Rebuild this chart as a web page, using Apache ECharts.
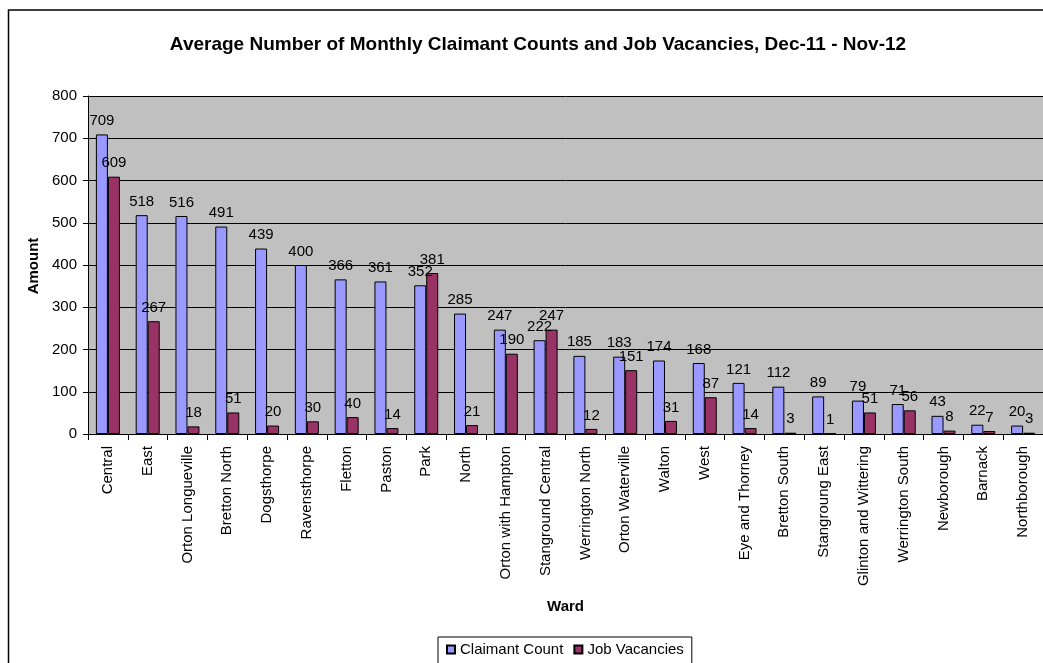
<!DOCTYPE html>
<html>
<head>
<meta charset="utf-8">
<title>Claimant Counts and Job Vacancies</title>
<script src="https://cdn.jsdelivr.net/npm/echarts@6/dist/echarts.min.js"></script>
<style>
  html, body { margin: 0; padding: 0; background: #fff; }
  #chart { width: 1043px; height: 663px; }
</style>
</head>
<body>
<div id="chart"></div>
<script>
// Wards, in order of average claimant count
const wards = [
  'Central', 'East', 'Orton Longueville', 'Bretton North', 'Dogsthorpe',
  'Ravensthorpe', 'Fletton', 'Paston', 'Park', 'North', 'Orton with Hampton',
  'Stanground Central', 'Werrington North', 'Orton Waterville', 'Walton', 'West',
  'Eye and Thorney', 'Bretton South', 'Stangroung East', 'Glinton and Wittering',
  'Werrington South', 'Newborough', 'Barnack', 'Northborough'
];

// Average monthly values, Dec-11 to Nov-12
const claimantCount = [709, 518, 516, 491, 439, 400, 366, 361, 352, 285, 247, 222, 185, 183, 174, 168, 121, 112, 89, 79, 71, 43, 22, 20];
const jobVacancies  = [609, 267, 18, 51, 20, 30, 40, 14, 381, 21, 190, 247, 12, 151, 31, 87, 14, 3, 1, 51, 56, 8, 7, 3];

// Value axis ticks
const yTicks = [0, 100, 200, 300, 400, 500, 600, 700, 800];

const FONT = 'Liberation Sans, Arial, sans-serif';

const chart = echarts.init(document.getElementById('chart'), null, { renderer: 'canvas' });

const labelStyle = {
  show: true,
  position: 'top',
  distance: 6,
  color: '#000',
  fontFamily: FONT,
  fontSize: 15
};

chart.setOption({
  animation: false,
  backgroundColor: '#fff',
  textStyle: { fontFamily: FONT },
  title: {
    text: 'Average Number of Monthly Claimant Counts and Job Vacancies, Dec-11 - Nov-12',
    left: 533,
    textAlign: 'center',
    top: 30,
    textStyle: { fontFamily: FONT, fontSize: 19, fontWeight: 'bold', color: '#000' }
  },
  graphic: [{
    // outer chart frame
    type: 'rect',
    shape: { x: 8.5, y: 10, width: 1100, height: 700 },
    style: { fill: 'none', stroke: '#000', lineWidth: 1.5 },
    silent: true,
    z: -1
  }, {
    // value axis title
    type: 'text',
    x: 34,
    y: 266,
    rotation: Math.PI / 2,
    style: {
      text: 'Amount',
      fontFamily: FONT,
      fontSize: 15,
      fontWeight: 'bold',
      fill: '#000',
      align: 'center',
      verticalAlign: 'middle'
    }
  }],
  legend: {
    left: 438,
    top: 637,
    data: ['Claimant Count', 'Job Vacancies'],
    icon: 'rect',
    itemWidth: 8,
    itemHeight: 8,
    itemGap: 10,
    padding: [5, 8, 8, 8],
    borderColor: '#000',
    borderWidth: 1,
    backgroundColor: '#fff',
    textStyle: { fontFamily: FONT, fontSize: 15, color: '#000' }
  },
  grid: {
    left: 88,
    top: 96,
    width: 958,
    height: 338,
    show: true,
    backgroundColor: '#c0c0c0',
    borderColor: '#808080',
    borderWidth: 0
  },
  xAxis: {
    type: 'category',
    data: wards,
    name: 'Ward',
    nameLocation: 'middle',
    nameGap: 165,
    nameTextStyle: { fontFamily: FONT, fontSize: 15, fontWeight: 'bold', color: '#000' },
    axisLine: { lineStyle: { color: '#000', width: 1 } },
    axisTick: { show: true, length: 6, lineStyle: { color: '#000' } },
    axisLabel: {
      rotate: 90,
      margin: 12,
      interval: 0,
      fontFamily: FONT,
      fontSize: 15,
      color: '#000'
    },
    splitLine: { show: false }
  },
  yAxis: {
    type: 'value',
    min: yTicks[0],
    max: yTicks[yTicks.length - 1],
    interval: 100,
    axisLine: { show: true, lineStyle: { color: '#000', width: 1 } },
    axisTick: { show: true, length: 5, lineStyle: { color: '#000' } },
    axisLabel: { margin: 11, fontFamily: FONT, fontSize: 15, color: '#000' },
    splitLine: { show: true, lineStyle: { color: '#000', width: 1 } }
  },
  series: [{
    name: 'Claimant Count',
    type: 'bar',
    data: claimantCount,
    barWidth: 12,
    barGap: '0%',
    itemStyle: { color: '#9999ff', borderColor: '#000', borderWidth: 1 },
    label: labelStyle
  }, {
    name: 'Job Vacancies',
    type: 'bar',
    data: jobVacancies,
    barWidth: 12,
    barGap: '0%',
    itemStyle: { color: '#993366', borderColor: '#000', borderWidth: 1 },
    label: labelStyle
  }]
});
</script>
</body>
</html>
